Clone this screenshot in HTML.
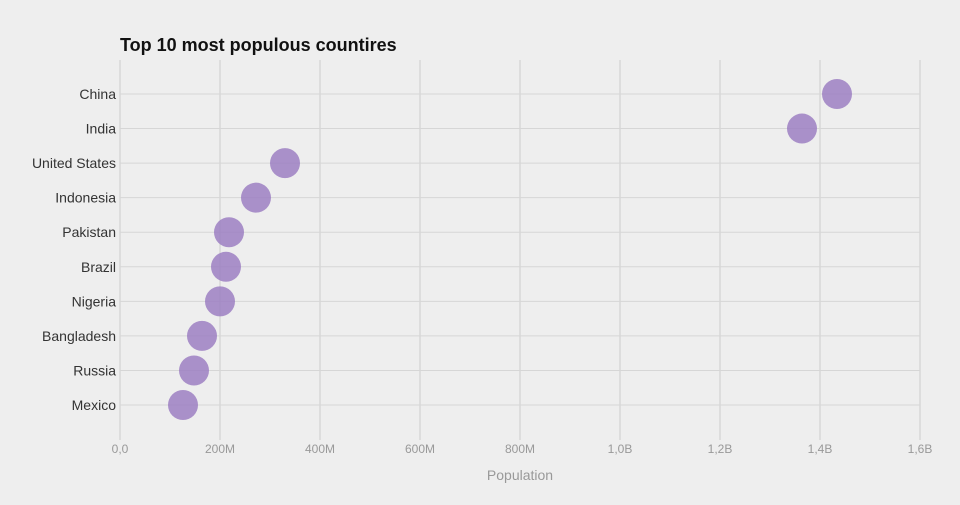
<!DOCTYPE html>
<html><head><meta charset="utf-8"><style>
body{margin:0;background:#eeeeee;font-family:"Liberation Sans",sans-serif}
</style></head><body>
<svg id="chart" width="960" height="500" xmlns="http://www.w3.org/2000/svg">
<rect width="960" height="500" fill="#eeeeee"/>
<text x="120" y="51" font-size="18" font-weight="bold" fill="#111">Top 10 most populous countires</text>
<g id="grid"></g><g id="ylabels"></g><g id="xlabels"></g><g id="dots"></g>
<text x="520" y="480" font-size="14" fill="#999" text-anchor="middle">Population</text>
</svg>
<script>
const countries=["China","India","United States","Indonesia","Pakistan","Brazil","Nigeria","Bangladesh","Russia","Mexico"];
const population=[1434,1364,330,272,218,212,200,164,148,126];
const tickValues=[0,200,400,600,800,1000,1200,1400,1600];
const tickLabels=["0,0","200M","400M","600M","800M","1,0B","1,2B","1,4B","1,6B"];
const NS="http://www.w3.org/2000/svg";
const x=v=>120+v*0.5;
const y=i=>94+i*34.56;
function mk(tag,attrs,parent){const e=document.createElementNS(NS,tag);for(const k in attrs)e.setAttribute(k,attrs[k]);document.getElementById(parent).appendChild(e);return e;}
tickValues.forEach((t,i)=>{
 const l=mk("line",{x1:x(t),x2:x(t),y1:60,y2:440,stroke:"#cccccc","stroke-width":1},"grid");
 
 
 const tx=mk("text",{x:x(t),y:453,"font-size":12,fill:"#999","text-anchor":"middle"},"xlabels");
 tx.textContent=tickLabels[i];
 
 
});
countries.forEach((c,i)=>{
 const l=mk("line",{x1:120,x2:920,y1:y(i),y2:y(i),stroke:"#d6d6d6","stroke-width":1},"grid");
 
 
 const tx=mk("text",{x:116,y:y(i)+5,"font-size":14,fill:"#333","text-anchor":"end"},"ylabels");
 tx.textContent=c;
 
 
 const d=mk("circle",{cx:x(population[i]),cy:y(i),r:15,fill:"#9c7fc2","fill-opacity":0.85},"dots");
 
 
});
</script>
</body></html>
